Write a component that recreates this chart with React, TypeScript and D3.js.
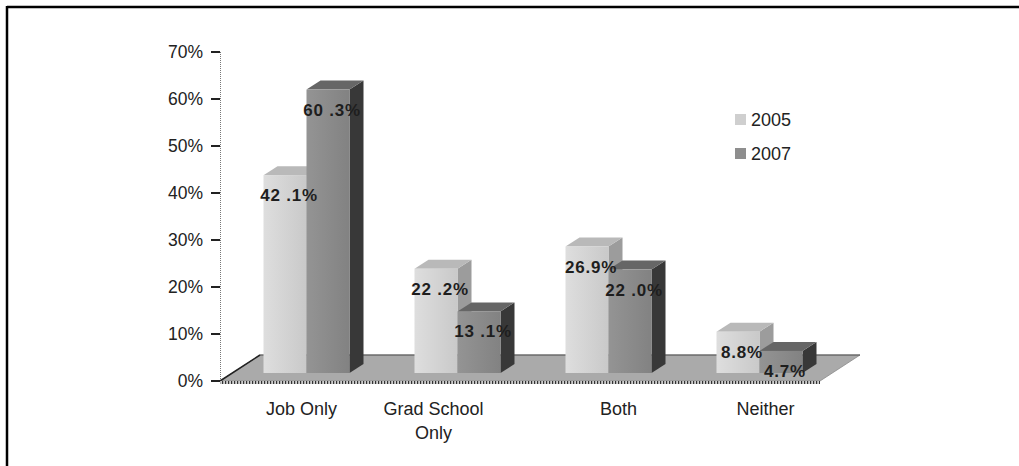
import React from "react";
import * as d3 from "d3";

const categories = ["Job Only", "Grad School Only", "Both", "Neither"];
const categoryLines = [["Job Only"], ["Grad School", "Only"], ["Both"], ["Neither"]];
const series = ["2005", "2007"];
const values2005 = [42.1, 22.2, 26.9, 8.8];
const values2007 = [60.3, 13.1, 22.0, 4.7];
const labels2005 = ["42 .1%", "22 .2%", "26.9%", "8.8%"];
const labels2007 = ["60 .3%", "13 .1%", "22 .0%", "4.7%"];
const yTicks = [0, 10, 20, 30, 40, 50, 60, 70];

const W = 1019;
const H = 466;
const FONT = "Liberation Sans, Arial, sans-serif";

const y = d3.scaleLinear().domain([0, 70]).range([381, 52]);
const x = d3.scaleBand<string>().domain(categories).range([231, 835]).padding(0);
const xs = d3.scaleBand<string>().domain(series).range([-43, 43]).padding(0);

// 3D offsets
const BAR_DX = 14;
const BAR_DY = -9;
const BAR_BASE_SHIFT = -8;
const FLOOR_DX = 40;
const FLOOR_DY = -26;
// horizontal nudges for the category captions under the floor
const captionNudge = [-5, -24, 10, 6];

const palette = {
  "2005": { front: ["#dedede", "#c9c9c9"], top: "#b9b9b9", side: "#9c9c9c", legend: "#cfcfcf" },
  "2007": { front: ["#949494", "#828282"], top: "#666666", side: "#383838", legend: "#8e8e8e" },
};

export default function App() {
  const floorL = 220;
  const floorR = 820;
  const y0 = y(0);
  const floor = [
    [floorL, y0],
    [floorR, y0],
    [floorR + FLOOR_DX, y0 + FLOOR_DY],
    [floorL + FLOOR_DX, y0 + FLOOR_DY],
  ];

  const bars: any[] = [];
  categories.forEach((c, i) => {
    series.forEach((s) => {
      const v = s === "2005" ? values2005[i] : values2007[i];
      const label = s === "2005" ? labels2005[i] : labels2007[i];
      const left = (x(c) as number) + x.bandwidth() / 2 + (xs(s) as number);
      const w = xs.bandwidth();
      const top = y(v) + BAR_BASE_SHIFT;
      const base = y(0) + BAR_BASE_SHIFT;
      bars.push({ c, s, v, label, left, w, top, base, i });
    });
  });

  return (
    <svg width={W} height={H} style={{ display: "block", position: "absolute", left: 0, top: 0 }}>
      <defs>
        {series.map((s) => (
          <linearGradient key={s} id={`front-${s}`} x1="0" x2="1" y1="0" y2="0">
            <stop offset="0%" stopColor={palette[s].front[0]} />
            <stop offset="100%" stopColor={palette[s].front[1]} />
          </linearGradient>
        ))}
        <pattern id="hatch" width="3" height="4" patternUnits="userSpaceOnUse">
          <rect width="3" height="4" fill="#cfcfcf" />
          <rect width="1.2" height="4" fill="#333" />
        </pattern>
      </defs>
      <rect x={0} y={0} width={W} height={H} fill="#ffffff" />
      {/* frame */}
      <line x1={7} y1={7} x2={W} y2={7} stroke="#000" strokeWidth={2.5} />
      <line x1={7} y1={6} x2={7} y2={H} stroke="#000" strokeWidth={2.5} />

      {/* y axis */}
      <line x1={220.5} y1={y(70)} x2={220.5} y2={y(0)} stroke="#777" strokeWidth={1} strokeDasharray="1,1" />
      {yTicks.map((t) => (
        <g key={t}>
          <line x1={211} x2={220} y1={y(t)} y2={y(t)} stroke="#222" strokeWidth={2} />
          <text x={203} y={y(t)} dy="0.36em" textAnchor="end" fontFamily={FONT} fontSize={17.5} fill="#222">
            {t}%
          </text>
        </g>
      ))}

      {/* floor */}
      <polygon points={floor.map((p) => p.join(",")).join(" ")} fill="#aaaaaa" stroke="#8a8a8a" strokeWidth={0.8} />
      <line x1={floor[3][0]} y1={floor[3][1]} x2={floor[2][0]} y2={floor[2][1]} stroke="#555" strokeWidth={1.2} />
      <line x1={floor[0][0]} y1={floor[0][1]} x2={floor[3][0]} y2={floor[3][1]} stroke="#222" strokeWidth={1.5} />
      <rect x={floorL} y={y0} width={floorR - floorL} height={3} fill="url(#hatch)" />

      {/* bars */}
      {bars.map((b) => {
        const p = palette[b.s];
        const { left, w, top, base } = b;
        const sidePts = [
          [left + w, top],
          [left + w + BAR_DX, top + BAR_DY],
          [left + w + BAR_DX, base + BAR_DY],
          [left + w, base],
        ];
        const topPts = [
          [left, top],
          [left + BAR_DX, top + BAR_DY],
          [left + w + BAR_DX, top + BAR_DY],
          [left + w, top],
        ];
        return (
          <g key={b.c + b.s}>
            <polygon points={sidePts.map((q) => q.join(",")).join(" ")} fill={p.side} />
            <polygon points={topPts.map((q) => q.join(",")).join(" ")} fill={p.top} />
            <rect x={left} y={top} width={w} height={base - top} fill={`url(#front-${b.s})`} />
          </g>
        );
      })}

      {/* value labels */}
      {bars.map((b) => (
        <text
          key={"l" + b.c + b.s}
          x={b.left + b.w / 2 + 4}
          y={b.top + 20}
          dy="0.35em"
          textAnchor="middle"
          fontFamily={FONT}
          fontWeight="bold"
          fontSize={17}
          letterSpacing={0.8}
          fill="#1e1e1e"
        >
          {b.label}
        </text>
      ))}

      {/* category labels */}
      {categories.map((c, i) => (
        <text key={c} textAnchor="middle" fontFamily={FONT} fontSize={18} fill="#222">
          {categoryLines[i].map((line, k) => (
            <tspan key={k} x={(x(c) as number) + x.bandwidth() / 2 + captionNudge[i]} y={415 + k * 24}>
              {line}
            </tspan>
          ))}
        </text>
      ))}

      {/* legend */}
      {series.map((s, k) => (
        <g key={s} transform={`translate(735, ${114 + k * 34})`}>
          <rect width={11} height={11} fill={palette[s].legend} />
          <text x={16} y={6} dy="0.36em" fontFamily={FONT} fontSize={18} fill="#222">
            {s}
          </text>
        </g>
      ))}
    </svg>
  );
}
